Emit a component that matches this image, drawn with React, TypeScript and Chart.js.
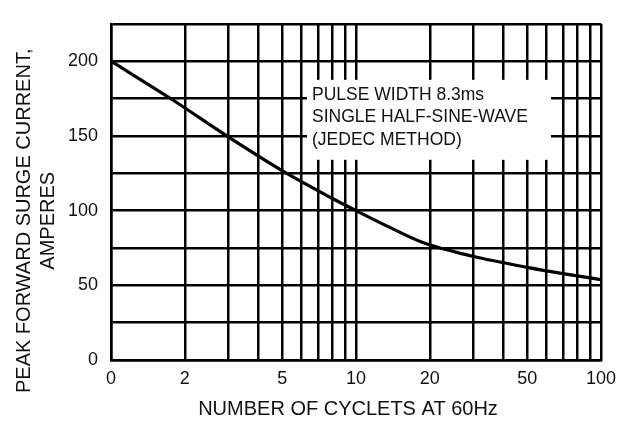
import React, { useEffect, useRef } from 'react';
import { Chart, registerables } from 'chart.js';

Chart.register(...registerables);

// ---- data ----
const cycles = [1, 1.75, 3, 5.2, 7.8, 10, 13.8, 18.5, 30, 50, 70, 100];
const surgeCurrent = [200, 175, 149.5, 125, 109.1, 100, 88.6, 79, 69.4, 62, 57.8, 53.8];
const xGridValues = [1, 2, 3, 4, 5, 6, 7, 8, 9, 10, 20, 30, 40, 50, 60, 70, 80, 90, 100];
const xTickLabels: Record<number, string> = { 1: '0', 2: '2', 5: '5', 10: '10', 20: '20', 50: '50', 100: '100' };
const yLabeledTicks = [0, 50, 100, 150, 200];
const yTitleLines = ['PEAK FORWARD SURGE CURRENT,', 'AMPERES'];
const xTitle = 'NUMBER OF CYCLETS AT 60Hz';
const noteLines = ['PULSE WIDTH 8.3ms', 'SINGLE HALF-SINE-WAVE', '(JEDEC METHOD)'];

const FONT = 'Arial, "Liberation Sans", Helvetica, sans-serif';
const TEXT = '#111';

const decorPlugin = {
  id: 'decor',
  beforeDatasetsDraw(chart: any) {
    const { ctx, chartArea: a } = chart;
    ctx.save();
    ctx.fillStyle = '#fff';
    ctx.fillRect(a.left + 196, a.top + 56, 244, 80);
    ctx.fillStyle = TEXT;
    ctx.font = `17.5px ${FONT}`;
    ctx.textAlign = 'left';
    ctx.textBaseline = 'middle';
    noteLines.forEach((t, i) => ctx.fillText(t, a.left + 201, a.top + 71 + i * 22.7));
    ctx.restore();
  },
  afterDraw(chart: any) {
    const { ctx, chartArea: a } = chart;
    ctx.save();
    ctx.fillStyle = TEXT;
    ctx.font = `20px ${FONT}`;
    ctx.textAlign = 'center';
    ctx.textBaseline = 'middle';
    // x title
    ctx.fillText(xTitle, a.left + 237, a.bottom + 49);
    // y title (rotated)
    yTitleLines.forEach((t, i) => {
      ctx.save();
      ctx.translate(24 + i * 24, a.top + 197);
      ctx.rotate(-Math.PI / 2);
      ctx.fillText(t, 0, 0);
      ctx.restore();
    });
    ctx.restore();
  },
};

export default function App() {
  const ref = useRef<HTMLCanvasElement>(null);

  useEffect(() => {
    if (!ref.current) return;
    const chart = new Chart(ref.current, {
      type: 'line',
      data: {
        datasets: [
          {
            data: cycles.map((x, i) => ({ x, y: surgeCurrent[i] })),
            borderColor: '#000',
            borderWidth: 3.2,
            pointRadius: 0,
            fill: false,
            cubicInterpolationMode: 'monotone',
          },
        ],
      },
      options: {
        responsive: false,
        animation: false,
        layout: { padding: { top: 9, right: 33, left: 0, bottom: 0 } },
        plugins: {
          legend: { display: false },
          tooltip: { enabled: false },
        },
        scales: {
          x: {
            type: 'logarithmic',
            min: 1,
            max: 100,
            afterBuildTicks: (s: any) => {
              s.ticks = xGridValues.map((v) => ({ value: v }));
            },
            afterFit: (s: any) => {
              s.height = 66;
            },
            ticks: {
              autoSkip: false,
              maxRotation: 0,
              padding: 8,
              color: TEXT,
              font: { family: FONT, size: 18 },
              callback: (v: any) => xTickLabels[Number(v)] ?? '',
            },
            grid: { color: '#000', lineWidth: 2.5, drawTicks: false },
            border: { color: '#000', width: 2.5 },
          },
          y: {
            type: 'linear',
            min: 0,
            max: 225,
            afterFit: (s: any) => {
              s.width = 111;
            },
            ticks: {
              stepSize: 25,
              autoSkip: false,
              padding: 13,
              color: TEXT,
              font: { family: FONT, size: 18 },
              callback: (v: any) => (yLabeledTicks.includes(Number(v)) ? String(v) : ''),
            },
            grid: { color: '#000', lineWidth: 2.5, drawTicks: false },
            border: { color: '#000', width: 2.5 },
          },
        },
      } as any,
      plugins: [decorPlugin],
    });
    return () => chart.destroy();
  }, []);

  return (
    <div style={{ position: 'fixed', left: 0, top: 0, width: 634, height: 426, background: '#fff' }}>
      <canvas ref={ref} width={634} height={426} style={{ display: 'block' }} />
    </div>
  );
}
